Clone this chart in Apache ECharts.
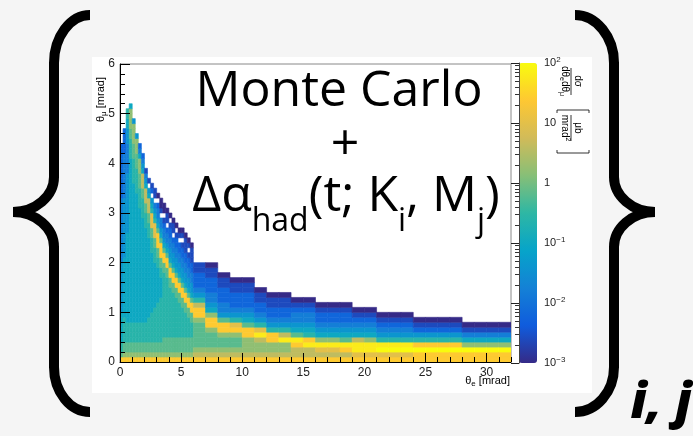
<!DOCTYPE html>
<html>
<head>
<meta charset="utf-8">
<title>Monte Carlo + Δα_had</title>
<script src="https://cdn.jsdelivr.net/npm/echarts@6/dist/echarts.min.js"></script>
<style>
html, body { margin: 0; padding: 0; background: #f5f5f5; }
#main { width: 693px; height: 436px; }
</style>
</head>
<body>
<div id="main"></div>
<script>
// ---- data ----
// one char per bin, bottom row first; log10(value) = -3 + 0.4 * index in levelChars, '.' = empty bin
// "Lxn" means level L repeated n times
var levelChars = '0123456789abcd';
var rowHeight = 0.1;      // theta_mu bin [mrad]
var fineWidth = 0.25;     // theta_e bin below 6 mrad
var coarseStart = 6;      // theta_e bins of 1 mrad from here on
var coarseWidth = 1;

var fineCols = [
  'b 7 6x2 5x6 4x10 3x13 2x11',
  'b 8 7x2 6x5 5x12 4x12 3x9 2x5',
  'b 8 7x2 6x4 5x18 4x12 3x6 4x3 5x2 6x2',
  'b 8 7x2 6x4 5x33 6x4 7x2 8x4 5',
  'b 8 7x2 6x4 5x28 6x5 7x3 8x4 4',
  'b 8 7x2 6x4 5x26 6x5 7x3 8x3 4',
  'b 8 7x2 6x4 5x23 6x4 7x3 8x3 5 3 2',
  'b 8 7x2 6x4 5x21 6x4 7x2 9x3 5 4 3 2',
  'b 8 7x2 6x4 5x19 6x3 7x2 9x3 5 4 3 1',
  'b 8 7x2 6x5 5x16 6x3 7x2 9x3 5 4 . 1',
  'b 8 7x2 6x6 5x12 6x3 7x2 ax3 6 5 4 . 2 1',
  'b 8 7x2 6x7 5x9 6x3 7x2 ax3 6 5 4 3 . 1 1',
  'b 8 7x2 6x8 5x7 6x2 7x2 bx3 7 5 4 3 3 2 . 0',
  'b 8 7x2 6x9 5x4 6x2 7x2 bx3 7 5 4 3 3 . 1 0 0',
  'b 8 7x3 6x13 7x2 bx2 7 5 4 3x2 2 1 . 0x2',
  'b 8 7x3 6x12 7x2 bx2 7 5 4 3x2 2 . 1x2 0',
  'b 8 7x3 6x10 7x2 bx2 7 5 4x2 3x2 2x2 1 . 0',
  'b 8 7x3 6x9 7x2 bx2 7 5 4x2 3x2 2 . 1x2 0',
  'b 8 7x3 6x8 7x2 bx2 7 5 4x2 3x2 2x2 1 . 0',
  'b 8 7x3 6x7 7x2 bx2 7 5 4x2 3x2 2x2 . 1 0',
  'b 8 7x3 6x6 7x2 bx2 7 5 4x2 3x2 2x2 1 . 1 0',
  'b 8 7x3 6x5 7x2 bx2 7 5 4x2 3x2 2x2 1x3 0',
  'b 8 7x3 6x4 7x2 bx2 7 5 4x2 3x2 2x2 1 . 1 0',
  'b 8 7x3 6x3 7x2 bx2 7 5 4x2 3x2 2x2 1x3 0'
];

var coarseCols = [
  'b98777778bb964322211',
  'b987778bb85433222110',
  'b98778bb7433222110',
  'b98778ba643222110',
  'b9888bb7543222110',
  'b9889ca64322110',
  'b988bb64322110',
  'b988c964322110',
  'b99bc75433210',
  'b99cb65433210',
  'b9ac85432210',
  'b9ac85432210',
  'b9bc75432210',
  'bacc9543210',
  'bacc8543210',
  'badc643210',
  'badc643210',
  'badc643210',
  'bbdb64210',
  'bbdb64210',
  'bbdb64210',
  'bbdb64210',
  'bbd85310',
  'bbd85310',
  'bbd85310',
  'bbd85310'
];

// colour bar
var cbExponents = [2, 1, 0, -1, -2, -3];
var cbLabels = ['{n|10}{sup|2}', '{n|10}', '{n|1}', '{n|10}{sup|−1}', '{n|10}{sup|−2}', '{n|10}{sup|−3}'];
var birdColors = ['#352a87', '#0f5cdd', '#1481d6', '#06a4ca', '#2eb7a4', '#87bf77', '#d1bb59', '#fec832', '#f9fb0e'];

// ---- build the bins ----
function expand(col) {
  var out = '';
  col.split(' ').forEach(function (tok) {
    var p = tok.split('x');
    var n = p.length > 1 ? parseInt(p[1], 10) : 1;
    for (var i = 0; i < n; i++) out += p[0];
  });
  return out;
}

var cells = [];
function addColumn(x0, x1, col) {
  var s = expand(col);
  for (var k = 0; k < s.length; k++) {
    var idx = levelChars.indexOf(s.charAt(k));
    if (idx < 0) continue;
    cells.push([x0, x1, k * rowHeight, (k + 1) * rowHeight, Math.min(2, -3 + 0.4 * idx)]);
  }
}
fineCols.forEach(function (c, i) { addColumn(i * fineWidth, (i + 1) * fineWidth, c); });
coarseCols.forEach(function (c, i) {
  var x0 = coarseStart + i * coarseWidth;
  addColumn(x0, x0 + coarseWidth, c);
});

function renderCell(params, api) {
  var a = api.coord([api.value(0), api.value(3)]);
  var b = api.coord([api.value(1), api.value(2)]);
  var color = api.visual('color');
  return {
    type: 'rect',
    shape: { x: a[0], y: a[1], width: b[0] - a[0], height: b[1] - a[1] },
    style: { fill: color, stroke: color, lineWidth: 0.6 }
  };
}

// ---- text helpers ----
var helv = '"Liberation Sans", Arial, sans-serif';
var bigFont = '"Open Sans", Lato, sans-serif';
var measureCtx = document.createElement('canvas').getContext('2d');

// pieces: [text, fontSize, yOffset]
function textRow(pieces, family, x, y, align, weight) {
  var fonts = pieces.map(function (p) { return (weight || 'normal') + ' ' + p[1] + 'px ' + family; });
  var widths = pieces.map(function (p, i) {
    measureCtx.font = fonts[i];
    return measureCtx.measureText(p[0]).width;
  });
  var total = widths.reduce(function (s, w) { return s + w; }, 0);
  var cx = align === 'center' ? x - total / 2 : (align === 'right' ? x - total : x);
  return pieces.map(function (p, i) {
    var el = {
      type: 'text', x: cx, y: y + p[2], z: 100, silent: true,
      style: {
        text: p[0], font: fonts[i], fill: '#000',
        align: 'left', verticalAlign: 'middle', textAlign: 'left', textVerticalAlign: 'middle'
      }
    };
    cx += widths[i];
    return el;
  });
}

// curly brace from straight and cubic pieces
function brace(xEnd, xMid, xTip, yTop, yMid, yBot) {
  var st = { stroke: '#000', lineWidth: 10, fill: null, lineCap: 'butt' };
  var k1 = xMid + (xEnd - xMid) * 0.45;
  var k2 = xTip + (xMid - xTip) * 0.55;
  function bz(x1, y1, c1x, c1y, c2x, c2y, x2, y2) {
    return { type: 'bezierCurve', z: 100, silent: true, style: st,
      shape: { x1: x1, y1: y1, cpx1: c1x, cpy1: c1y, cpx2: c2x, cpy2: c2y, x2: x2, y2: y2 } };
  }
  function ln(x1, y1, x2, y2) {
    return { type: 'line', z: 100, silent: true, style: st, shape: { x1: x1, y1: y1, x2: x2, y2: y2 } };
  }
  return [
    bz(xEnd, yTop, k1, yTop, xMid, yTop + 22, xMid, yTop + 48),
    ln(xMid, yTop + 47, xMid, yMid - 34),
    bz(xMid, yMid - 35, xMid, yMid - 16, k2, yMid, xTip, yMid),
    bz(xTip, yMid, k2, yMid, xMid, yMid + 16, xMid, yMid + 35),
    ln(xMid, yMid + 34, xMid, yBot - 44),
    bz(xMid, yBot - 45, xMid, yBot - 20, k1, yBot, xEnd, yBot)
  ];
}

var elements = [
  { type: 'rect', z: -1, silent: true, shape: { x: 92, y: 57, width: 500, height: 336 }, style: { fill: '#ffffff' } },
  { type: 'group', x: 101, y: 122, rotation: Math.PI / 2,
    children: textRow([['θ', 11, 0], ['μ', 8, 3], [' [mrad]', 11, 0]], helv, 0, 0, 'left') },
  { type: 'group', x: 571, y: 68, rotation: -Math.PI / 2,
    children: [].concat(
      textRow([['dσ', 10, 0]], helv, 13, -7, 'center'),
      textRow([['dθ', 10, 0], ['e', 7, 3], ['dθ', 10, 0], ['μ', 7, 3]], helv, 13, 6, 'center'),
      [{ type: 'line', shape: { x1: 0, y1: 0, x2: 27, y2: 0 }, style: { stroke: '#000', lineWidth: 0.8 } },
       { type: 'polyline', shape: { points: [[45, -18], [42, -18], [42, 14], [45, 14]] }, style: { fill: null, stroke: '#000', lineWidth: 0.8 } }],
      textRow([['μb', 10, 0]], helv, 60, -7, 'center'),
      textRow([['mrad', 10, 0], ['2', 7, -3]], helv, 60, 6, 'center'),
      [{ type: 'line', shape: { x1: 47, y1: 0, x2: 73, y2: 0 }, style: { stroke: '#000', lineWidth: 0.8 } },
       { type: 'polyline', shape: { points: [[82, -18], [85, -18], [85, 14], [82, 14]] }, style: { fill: null, stroke: '#000', lineWidth: 0.8 } }]
    ) }
];
elements = elements.concat(
  brace(90, 54, 13, 15, 212, 412),
  brace(575, 614, 655, 15, 212, 412),
  textRow([['θ', 11, 0], ['e', 8, 3], [' [mrad]', 11, 0]], helv, 510, 381, 'right'),
  textRow([['Monte Carlo', 50, 0]], bigFont, 339, 92, 'center'),
  textRow([['+', 50, 0]], bigFont, 345, 146, 'center'),
  textRow([['Δα', 50, 0], ['had', 32, 25], ['(t; K', 50, 0], ['i', 32, 25], [', M', 50, 0], ['j', 32, 25], [')', 50, 0]], bigFont, 346, 197, 'center'),
  textRow([['i, j', 50, 0]], bigFont, 661, 404, 'center', 'italic 800')
);

var tickStyle = { color: '#000', width: 1 };

var option = {
  backgroundColor: '#f5f5f5',
  animation: false,
  grid: [
    { left: 120, top: 64, width: 391, height: 298, show: true, borderColor: '#888', borderWidth: 1, backgroundColor: 'transparent' },
    { left: 519, top: 63, width: 18, height: 300 }
  ],
  xAxis: [
    { gridIndex: 0, type: 'value', min: 0, max: 32, interval: 5, z: 5,
      axisLine: { onZero: false, lineStyle: tickStyle },
      axisTick: { inside: true, length: 9, lineStyle: tickStyle },
      axisLabel: { showMaxLabel: false, margin: 5, fontSize: 12, color: '#222', fontFamily: helv },
      splitLine: { show: false } },
    { gridIndex: 0, type: 'value', min: 0, max: 32, interval: 1, position: 'bottom', z: 5,
      axisLine: { show: false },
      axisTick: { inside: true, length: 5, lineStyle: tickStyle },
      axisLabel: { show: false }, splitLine: { show: false } },
    { gridIndex: 1, type: 'value', min: 0, max: 1, show: false }
  ],
  yAxis: [
    { gridIndex: 0, type: 'value', min: 0, max: 6, interval: 1, z: 5,
      axisLine: { onZero: false, lineStyle: tickStyle },
      axisTick: { inside: true, length: 10, lineStyle: tickStyle },
      axisLabel: { margin: 5, fontSize: 12, color: '#222', fontFamily: helv },
      splitLine: { show: false } },
    { gridIndex: 0, type: 'value', min: 0, max: 6, interval: 0.2, position: 'left', z: 5,
      axisLine: { show: false },
      axisTick: { inside: true, length: 5, lineStyle: tickStyle },
      axisLabel: { show: false }, splitLine: { show: false } },
    { gridIndex: 1, type: 'log', logBase: 10, min: 0.001, max: 100, position: 'right', z: 10,
      axisLine: { show: true, lineStyle: { color: '#444', width: 1 } },
      axisTick: { inside: true, length: 8, lineStyle: { color: '#222' } },
      minorTick: { show: true, splitNumber: 9, length: 4, lineStyle: { color: '#333' } },
      splitLine: { show: false },
      axisLabel: {
        margin: 7, color: '#222', fontFamily: helv,
        formatter: function (v) {
          var e = Math.round(Math.log(v) / Math.LN10);
          var i = cbExponents.indexOf(e);
          return i < 0 ? '' : cbLabels[i];
        },
        rich: {
          n: { fontSize: 11, lineHeight: 14, fontFamily: helv, color: '#222' },
          sup: { fontSize: 8, lineHeight: 10, verticalAlign: 'top', fontFamily: helv, color: '#222' }
        }
      } }
  ],
  visualMap: {
    type: 'continuous', seriesIndex: 0, dimension: 4, min: -3, max: 2,
    inRange: { color: birdColors },
    orient: 'vertical', left: 519, top: 63, itemWidth: 18, itemHeight: 300,
    padding: 0, calculable: false, hoverLink: false, text: null
  },
  series: [{
    type: 'custom',
    xAxisIndex: 0,
    yAxisIndex: 0,
    renderItem: renderCell,
    encode: { x: [0, 1], y: [2, 3] },
    clip: true,
    silent: true,
    data: cells
  }],
  graphic: { elements: elements }
};

var chart = echarts.init(document.getElementById('main'));
chart.setOption(option);
</script>
</body>
</html>
